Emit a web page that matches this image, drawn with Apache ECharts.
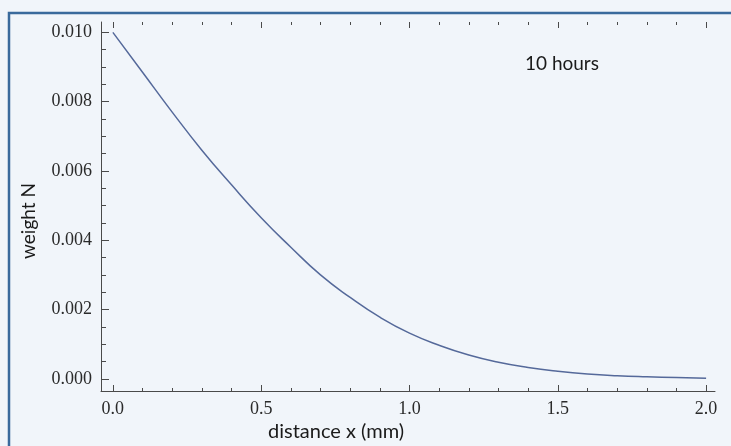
<!DOCTYPE html>
<html>
<head>
<meta charset="utf-8">
<script src="https://cdn.jsdelivr.net/npm/echarts@6/dist/echarts.min.js"></script>
<style>
  html, body { margin: 0; padding: 0; background: #f1f5fa; }
  #chart { width: 731px; height: 446px; }
</style>
</head>
<body>
<div id="chart"></div>
<script>
// distance from the source (mm) and the weight left at that distance (N)
var distance = [0.0, 0.1, 0.2, 0.3, 0.4, 0.5, 0.6, 0.7, 0.8, 0.9, 1.0,
                1.1, 1.2, 1.3, 1.4, 1.5, 1.6, 1.7, 1.8, 1.9, 2.0];
var weight = [0.01000, 0.00885, 0.00770, 0.00660, 0.00560, 0.00465, 0.00380,
              0.00300, 0.00235, 0.00178, 0.00132, 0.00097, 0.00069, 0.00048,
              0.00033, 0.00022, 0.00014, 0.00009, 0.00006, 0.00004, 0.00002];

var xTickLabels = ['0.0', '0.5', '1.0', '1.5', '2.0'];
var yTickLabels = ['0.000', '0.002', '0.004', '0.006', '0.008', '0.010'];

var curveLabel = '10 hours';
var xTitle = 'distance x (mm)';
var yTitle = 'weight N';

var points = distance.map(function (d, i) { return [d, weight[i]]; });

// tick positions: labelled majors, plus minors every 0.1 mm / 0.0005 N
var xMajor = xTickLabels.map(Number);
var yMajor = yTickLabels.map(Number);
var xMinor = [];
for (var i = 0; i <= 20; i++) { if (i % 5) xMinor.push(i / 10); }
var yMinor = [];
for (var j = 0; j <= 20; j++) { if (j % 4) yMinor.push(j / 2000); }

var axisColor = '#4a4a4a';
var labelFont = {
  fontFamily: '"Liberation Serif", "DejaVu Serif", serif',
  fontSize: 18,
  color: '#2a2a2a'
};
var titleFont = 'Lato, "Open Sans", sans-serif';

var X_MIN = -0.04, X_MAX = 2.03;
var Y_MIN = -0.00035, Y_MAX = 0.0103;

function xAxisDef(position, ticks, len, withLine, withLabels) {
  return {
    type: 'value', min: X_MIN, max: X_MAX, position: position,
    axisLine: { show: withLine, onZero: false, lineStyle: { color: axisColor, width: 1 } },
    axisTick: { show: true, inside: true, length: len, customValues: ticks,
                lineStyle: { color: axisColor } },
    axisLabel: withLabels ? Object.assign({
      margin: 9, customValues: xMajor,
      formatter: function (v) { return xTickLabels[Math.round(v / 0.5)]; }
    }, labelFont) : { show: false },
    splitLine: { show: false }
  };
}

function yAxisDef(ticks, len, withLine, withLabels) {
  return {
    type: 'value', min: Y_MIN, max: Y_MAX, position: 'left',
    axisLine: { show: withLine, onZero: false, lineStyle: { color: axisColor, width: 1 } },
    axisTick: { show: true, inside: true, length: len, customValues: ticks,
                lineStyle: { color: axisColor } },
    axisLabel: withLabels ? Object.assign({
      margin: 9, customValues: yMajor,
      formatter: function (v) { return yTickLabels[Math.round(v / 0.002)]; }
    }, labelFont) : { show: false },
    splitLine: { show: false }
  };
}

var chart = echarts.init(document.getElementById('chart'));
chart.setOption({
  backgroundColor: '#f1f5fa',
  animation: false,
  grid: { left: 101, right: 16, top: 22, bottom: 55 },
  xAxis: [
    xAxisDef('bottom', xMajor, 6, true, true),
    xAxisDef('bottom', xMinor, 3, false, false),
    xAxisDef('top', xMajor, 6, false, false),
    xAxisDef('top', xMinor, 3, false, false)
  ],
  yAxis: [
    yAxisDef(yMajor, 8, true, true),
    yAxisDef(yMinor, 5, false, false)
  ],
  series: [
    {
      type: 'line',
      xAxisIndex: 0, yAxisIndex: 0,
      data: points,
      smooth: true,
      showSymbol: false,
      lineStyle: { color: '#55699a', width: 1.5 }
    }
  ],
  graphic: [
    {
      type: 'rect', silent: true, z: 100,
      shape: { x: 9, y: 13, width: 740, height: 460 },
      style: { fill: 'none', stroke: '#3a6a9c', lineWidth: 2.5 }
    },
    {
      type: 'text', left: 525, top: 54,
      style: { text: curveLabel, font: '19px ' + titleFont, fill: '#1a1a1a' }
    },
    {
      type: 'text', left: 268, top: 422,
      style: { text: xTitle, font: '20px ' + titleFont, fill: '#1a1a1a' }
    },
    {
      type: 'text', x: 19, y: 259, rotation: Math.PI / 2,
      style: { text: yTitle, font: '19px ' + titleFont, fill: '#1a1a1a' }
    }
  ]
});
</script>
</body>
</html>
